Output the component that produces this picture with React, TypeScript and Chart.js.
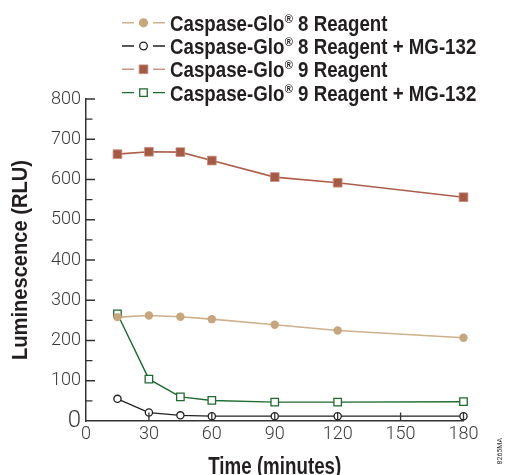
import { useEffect, useRef } from 'react';
import { Chart, registerables } from 'chart.js';

Chart.register(...registerables);

// ---- data ----
const timeMinutes = [15, 30, 45, 60, 90, 120, 180];
const glo8 = [258, 262, 259, 253, 239, 225, 207];
const glo8MG = [55, 21, 14, 12, 12, 12, 12];
const glo9 = [663, 669, 668, 647, 606, 592, 556];
const glo9MG = [266, 104, 60, 51, 47, 47, 48];
const seriesLabels = [
  'Caspase-Glo® 8 Reagent',
  'Caspase-Glo® 8 Reagent + MG-132',
  'Caspase-Glo® 9 Reagent',
  'Caspase-Glo® 9 Reagent + MG-132',
];
const xTickValues = [0, 30, 60, 90, 120, 150, 180];
const yTickValues = [0, 100, 200, 300, 400, 500, 600, 700, 800];
const yMinorTickValues = [50, 150, 250, 350, 450, 550, 650, 750];
const xTitle = 'Time (minutes)';
const yTitle = 'Luminescence (RLU)';
const figureCode = '8265MA';

const W = 506;
const H = 475;
const boldFamily = "'Liberation Sans', Arial, sans-serif";
const light = "Roboto, 'Liberation Sans', Arial, sans-serif";
const inkColor = '#231f20';
const axisColor = '#333333';

const toXY = (ys: number[]) => ys.map((y, i) => ({ x: timeMinutes[i], y }));

const innerTicksPlugin = {
  id: 'innerTicks',
  afterDatasetsDraw(chart: any) {
    const { ctx, scales } = chart;
    const xs = scales.x;
    const ys = scales.y;
    const left = chart.chartArea.left;
    const bottom = chart.chartArea.bottom;
    ctx.save();
    ctx.strokeStyle = axisColor;
    ctx.lineWidth = 1.3;
    ctx.beginPath();
    yTickValues.forEach((v) => {
      if (v === 0) return;
      const p = ys.getPixelForValue(v);
      ctx.moveTo(left, p);
      ctx.lineTo(left + 9, p);
    });
    yMinorTickValues.forEach((v) => {
      const p = ys.getPixelForValue(v);
      ctx.moveTo(left, p);
      ctx.lineTo(left + 6.5, p);
    });
    xTickValues.forEach((v) => {
      if (v === 0) return;
      const p = xs.getPixelForValue(v);
      ctx.moveTo(p, bottom);
      ctx.lineTo(p, bottom - 8.5);
    });
    ctx.stroke();
    ctx.restore();
  },
};

// condensed axis titles (the original uses a condensed bold face)
const axisTitlesPlugin = {
  id: 'axisTitles',
  afterDraw(chart: any) {
    const { ctx, chartArea } = chart;
    ctx.save();
    ctx.fillStyle = inkColor;
    ctx.textAlign = 'center';
    ctx.textBaseline = 'alphabetic';
    ctx.font = `bold 24px ${boldFamily}`;
    let w = ctx.measureText(xTitle).width;
    ctx.save();
    ctx.translate((chartArea.left + chartArea.right) / 2, 474);
    ctx.scale(133 / w, 1);
    ctx.fillText(xTitle, 0, 0);
    ctx.restore();
    ctx.font = `bold 22px ${boldFamily}`;
    w = ctx.measureText(yTitle).width;
    ctx.save();
    ctx.translate(27, (chartArea.top + chartArea.bottom) / 2);
    ctx.rotate(-Math.PI / 2);
    ctx.scale(200 / w, 1);
    ctx.fillText(yTitle, 0, 0);
    ctx.restore();
    ctx.restore();
  },
};

const legendRowsY = [30.8, 54, 77.3, 100.6];
const legendSqueeze = 0.85;

const customLegendPlugin = {
  id: 'customLegend',
  afterDraw(chart: any) {
    const { ctx } = chart;
    ctx.save();
    chart.data.datasets.forEach((ds: any, i: number) => {
      const baseline = legendRowsY[i];
      const cy = baseline - 8;
      ctx.strokeStyle = ds.legendLineColor || ds.borderColor;
      ctx.lineWidth = 1.4;
      ctx.beginPath();
      ctx.moveTo(122, cy);
      ctx.lineTo(134, cy);
      ctx.moveTo(153, cy);
      ctx.lineTo(165, cy);
      ctx.stroke();
      const mx = 143.5;
      ctx.lineWidth = ds.pointBorderWidth || 1.3;
      ctx.fillStyle = ds.pointBackgroundColor;
      ctx.strokeStyle = ds.pointBorderColor;
      ctx.beginPath();
      if (ds.pointStyle === 'rect') {
        const s = ds.pointRadius * Math.SQRT1_2;
        ctx.rect(mx - s, cy - s, 2 * s, 2 * s);
      } else {
        ctx.arc(mx, cy, ds.legendRadius || ds.pointRadius, 0, Math.PI * 2);
      }
      ctx.fill();
      if ((ds.pointBorderWidth || 0) > 0) ctx.stroke();
      const label: string = ds.label;
      const parts = label.split('®');
      ctx.save();
      ctx.translate(170, baseline);
      ctx.scale(legendSqueeze, 1);
      ctx.fillStyle = inkColor;
      ctx.textBaseline = 'alphabetic';
      ctx.textAlign = 'left';
      let tx = 0;
      ctx.font = `bold 22px ${boldFamily}`;
      ctx.fillText(parts[0], tx, 0);
      tx += ctx.measureText(parts[0]).width + 0.5;
      if (parts.length > 1) {
        ctx.font = `bold 13px ${boldFamily}`;
        ctx.fillText('®', tx, -8);
        tx += ctx.measureText('®').width;
        ctx.font = `bold 22px ${boldFamily}`;
        ctx.fillText(parts[1], tx, 0);
      }
      ctx.restore();
    });
    ctx.save();
    ctx.translate(500, 438);
    ctx.rotate(-Math.PI / 2);
    ctx.font = `7px ${light}`;
    ctx.fillStyle = '#333';
    ctx.textAlign = 'right';
    ctx.textBaseline = 'middle';
    ctx.fillText(figureCode, 0, 0);
    ctx.restore();
    ctx.restore();
  },
};

export default function App() {
  const canvasRef = useRef<HTMLCanvasElement | null>(null);

  useEffect(() => {
    if (!canvasRef.current) return;
    const chart = new Chart(canvasRef.current, {
      type: 'line',
      data: {
        datasets: [
          {
            label: seriesLabels[0],
            data: toXY(glo8),
            borderColor: '#cdb08c',
            borderWidth: 1.6,
            pointStyle: 'circle',
            pointRadius: 4.2,
            legendRadius: 4.6,
            pointBackgroundColor: '#c8a67d',
            pointBorderColor: '#c8a67d',
            pointBorderWidth: 0,
            clip: false,
          } as any,
          {
            label: seriesLabels[1],
            data: toXY(glo8MG),
            borderColor: '#222222',
            borderWidth: 1.3,
            pointStyle: 'circle',
            pointRadius: 3.6,
            legendRadius: 3.8,
            pointBackgroundColor: '#ffffff',
            pointBorderColor: '#222222',
            pointBorderWidth: 1.3,
            clip: false,
          } as any,
          {
            label: seriesLabels[2],
            data: toXY(glo9),
            borderColor: '#ad5e4a',
            legendLineColor: '#c99788',
            borderWidth: 1.6,
            pointStyle: 'rect',
            pointRadius: 6.2,
            pointBackgroundColor: '#a65a44',
            pointBorderColor: '#c98f80',
            pointBorderWidth: 0.8,
            clip: false,
          } as any,
          {
            label: seriesLabels[3],
            data: toXY(glo9MG),
            borderColor: '#1d6b2f',
            borderWidth: 1.4,
            pointStyle: 'rect',
            pointRadius: 5.3,
            pointBackgroundColor: '#ffffff',
            pointBorderColor: '#1d6b2f',
            pointBorderWidth: 1.3,
            clip: false,
          } as any,
        ],
      },
      options: {
        animation: false,
        responsive: false,
        devicePixelRatio: 1,
        layout: { padding: { top: 99, right: 42.5, left: 0, bottom: 0 } },
        plugins: {
          legend: { display: false },
          tooltip: { enabled: false },
        },
        elements: { line: { tension: 0 } },
        scales: {
          x: {
            type: 'linear',
            min: 0,
            max: 180,
            afterBuildTicks: (s: any) => {
              s.ticks = xTickValues.map((v) => ({ value: v }));
            },
            afterFit: (s: any) => {
              s.height = 54;
            },
            ticks: {
              color: '#3a3a3a',
              padding: 3,
              font: { family: light, size: 18, weight: 300 as any },
            },
            grid: { display: false, drawTicks: false },
            border: { display: true, color: axisColor, width: 1.5 },
            title: { display: false, text: xTitle },
          },
          y: {
            type: 'linear',
            min: 0,
            max: 800,
            afterBuildTicks: (s: any) => {
              s.ticks = yTickValues.map((v) => ({ value: v }));
            },
            afterFit: (s: any) => {
              s.width = 86;
            },
            ticks: {
              color: '#3a3a3a',
              padding: 5,
              font: (c: any) =>
                c.tick && c.tick.value === 0
                  ? { family: light, size: 24, weight: 300 as any }
                  : { family: light, size: 18, weight: 300 as any },
            },
            grid: { display: false, drawTicks: false },
            border: { display: true, color: axisColor, width: 1.5 },
            title: { display: false, text: yTitle },
          },
        },
      },
      plugins: [innerTicksPlugin, axisTitlesPlugin, customLegendPlugin],
    });
    return () => chart.destroy();
  }, []);

  return (
    <div style={{ position: 'absolute', top: 0, left: 0, width: W, height: H, background: '#ffffff' }}>
      <canvas ref={canvasRef} width={W} height={H} style={{ display: 'block', width: W, height: H }} />
    </div>
  );
}
